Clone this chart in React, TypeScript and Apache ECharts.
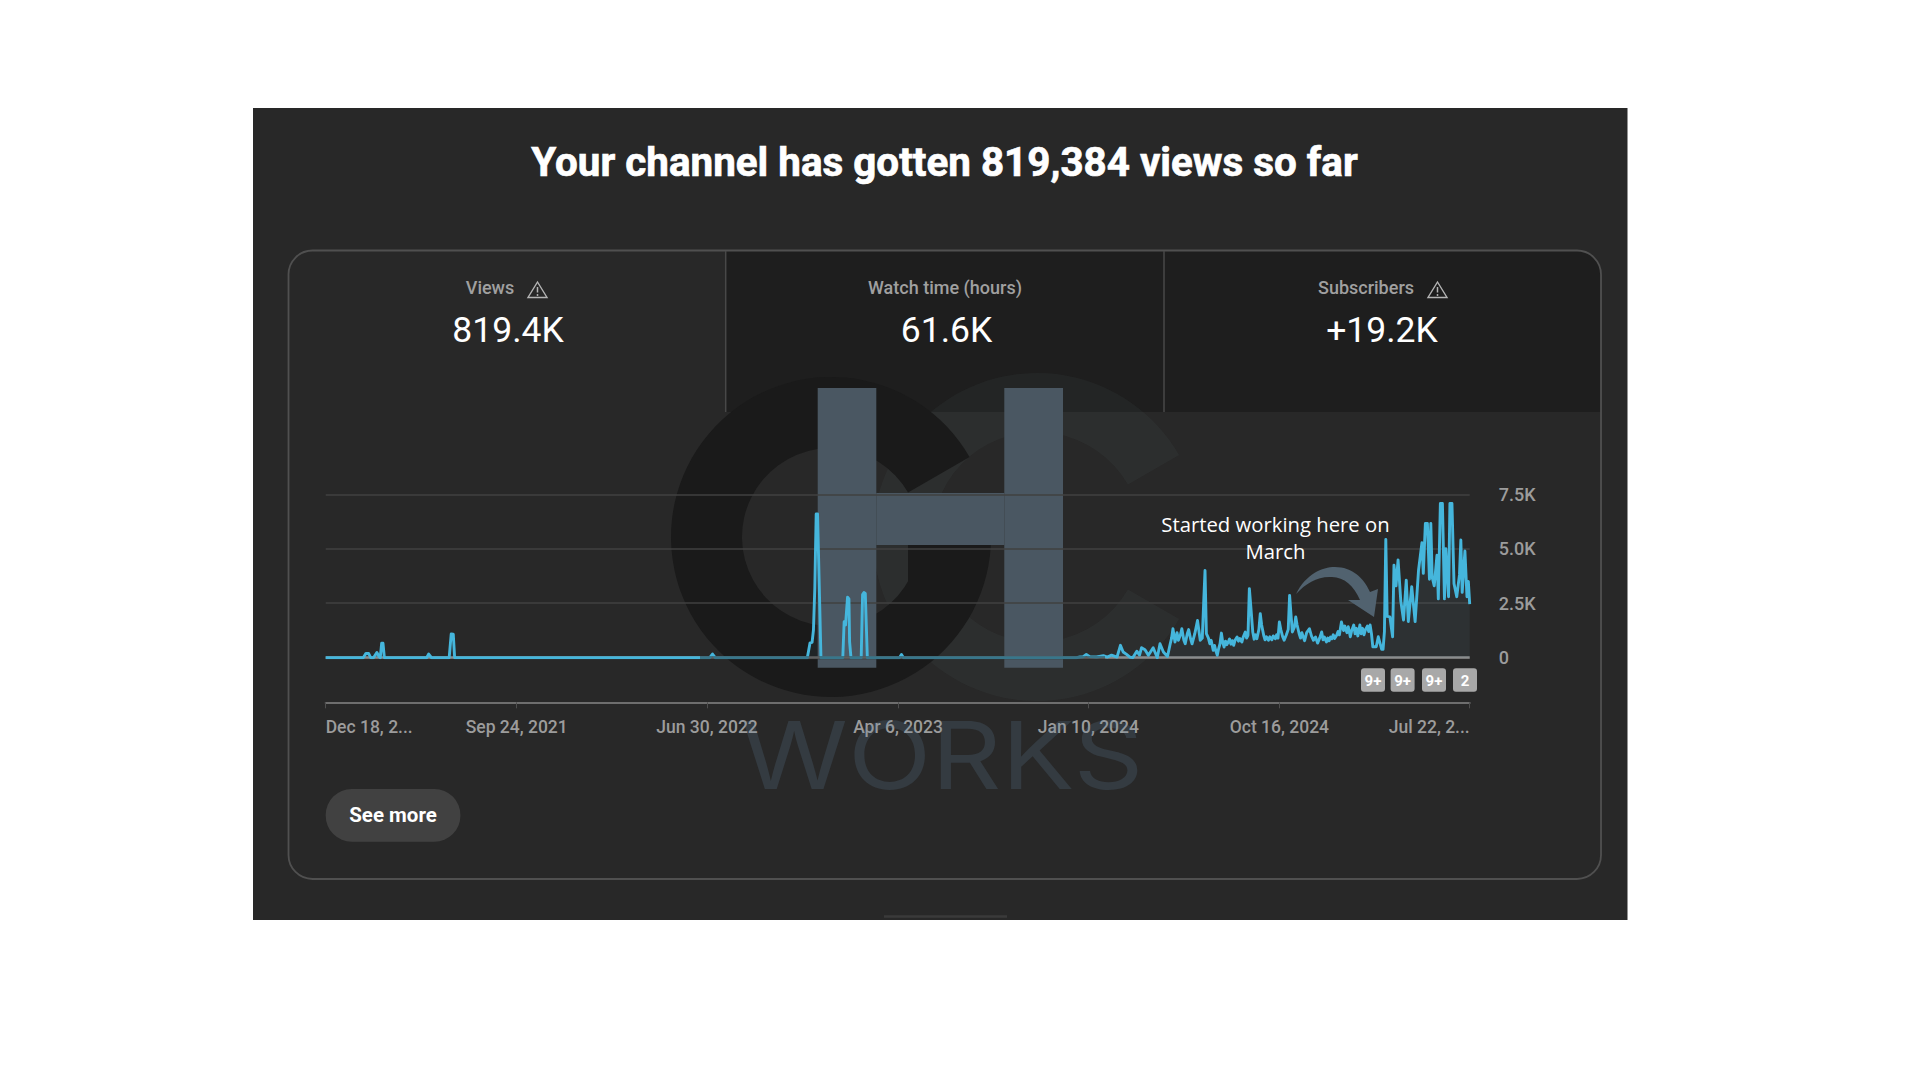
import React, { useEffect, useRef } from "react";
import * as echarts from "echarts";

const title = "Your channel has gotten 819,384 views so far";
const tabLabels = ["Views", "Watch time (hours)", "Subscribers"];
const tabValues = ["819.4K", "61.6K", "+19.2K"];
const badgeLabels = ["9+", "9+", "9+", "2"];
const xTickDays = [0, 280, 559, 839, 1118, 1398, 1677];
const xTickLabels = ["Dec 18, 2...", "Sep 24, 2021", "Jun 30, 2022", "Apr 6, 2023", "Jan 10, 2024", "Oct 16, 2024", "Jul 22, 2..."];
const yTickLabels: Record<number, string> = { 0: "0", 2500: "2.5K", 5000: "5.0K", 7500: "7.5K" };

const earlyDays = [0, 55, 59, 63, 66, 70, 75, 78, 80, 82, 84, 86, 148, 151, 155, 181, 184, 187, 189, 563, 567, 571, 706, 710, 713, 715, 717, 719, 721, 724, 726, 758, 760, 762, 765, 767, 768, 770, 785, 787, 789, 791, 794, 841, 844, 847, 1100];
const earlyViews = [0, 0, 200, 190, 0, 0, 240, 60, 0, 660, 660, 0, 0, 170, 0, 0, 1090, 1080, 0, 0, 170, 0, 0, 680, 700, 1270, 3200, 6600, 6600, 2650, 0, 0, 1650, 1500, 2780, 2700, 730, 0, 0, 2900, 2990, 2950, 0, 0, 150, 0, 0];

const growthDays = [1106, 1110, 1115, 1120, 1130, 1140, 1146, 1152, 1160, 1165, 1169, 1174, 1179, 1183, 1189, 1193, 1196, 1201, 1206, 1213, 1219, 1223, 1228, 1234, 1238, 1240, 1242, 1245, 1248, 1250, 1253, 1255, 1258, 1260, 1263, 1265, 1268, 1270, 1274, 1278, 1282, 1285, 1287, 1289, 1291];
const growthViews = [30, 40, 150, 50, 30, 90, 30, 120, 30, 570, 260, 150, 30, 0, 300, 120, 460, 370, 110, 460, 0, 640, 260, 60, 640, 900, 1330, 720, 1150, 800, 1050, 1330, 800, 640, 1100, 1290, 850, 640, 1100, 1710, 800, 900, 2500, 4000, 1100];

const bandPoints = [
  [1294, 900], [1296, 640], [1298, 800], [1301, 340], [1303, 560], [1305, 300], [1307, 110], [1309, 420], [1311, 640], [1313, 1130],
  [1315, 700], [1317, 490], [1319, 760], [1321, 600], [1323, 720], [1325, 860], [1327, 620], [1329, 780], [1331, 570], [1333, 800],
  [1336, 950], [1338, 760], [1340, 880], [1343, 720], [1345, 950], [1348, 1180], [1350, 900], [1352, 1030], [1354, 3170], [1356, 2400],
  [1359, 1180], [1361, 850], [1363, 1050], [1365, 870], [1368, 1300], [1370, 2020], [1372, 1500], [1375, 1030], [1377, 820], [1379, 960],
  [1382, 800], [1384, 960], [1387, 820], [1389, 1000], [1392, 870], [1394, 1050], [1396, 900], [1398, 1640], [1400, 1300], [1403, 950],
  [1405, 800], [1408, 1030], [1411, 1300], [1413, 2860], [1415, 2000], [1417, 1180], [1420, 1400], [1422, 1870], [1424, 1500], [1427, 1100],
  [1429, 900], [1431, 1150], [1433, 950], [1435, 780], [1438, 1150], [1442, 1330], [1445, 1000], [1448, 800], [1451, 950], [1454, 670],
  [1457, 900], [1460, 1180], [1462, 820], [1464, 950], [1467, 720], [1469, 900], [1471, 780], [1473, 950], [1475, 870], [1477, 1050],
  [1479, 880], [1482, 1030], [1484, 1200], [1486, 1050], [1489, 1640], [1492, 1250], [1494, 1450], [1497, 1150], [1499, 1420], [1502, 960],
  [1504, 1250], [1507, 1500], [1509, 1100], [1511, 1350], [1513, 1000], [1516, 1500], [1518, 1100], [1520, 1350], [1522, 1050], [1524, 1270],
  [1527, 1450], [1529, 1200], [1531, 1500],
];

const latestDays = [1533, 1535, 1540, 1543, 1548, 1550, 1552, 1554, 1556, 1560, 1564, 1566, 1569, 1572, 1576, 1580, 1584, 1587, 1592, 1597, 1602, 1607, 1609, 1612, 1615, 1618, 1620, 1622, 1625, 1629, 1631, 1634, 1637, 1640, 1642, 1646, 1648, 1651, 1654, 1658, 1662, 1664, 1666, 1670, 1673, 1675, 1677];
const latestViews = [1100, 500, 500, 960, 380, 380, 1200, 5430, 1900, 1870, 960, 4250, 3300, 4490, 2600, 1730, 3560, 1660, 3260, 1660, 4020, 5280, 3870, 6160, 6160, 3600, 6160, 3700, 3300, 4700, 2700, 7080, 7080, 2700, 5000, 2800, 7080, 7080, 3400, 2800, 3800, 5400, 3000, 4900, 2800, 3500, 2460];

const seriesData = [
  ...earlyDays.map((d, i) => [d, earlyViews[i]]),
  ...growthDays.map((d, i) => [d, growthViews[i]]),
  ...bandPoints,
  ...latestDays.map((d, i) => [d, latestViews[i]]),
];

const arrowPath =
  "M1296,594 C1306,574 1322,567 1335,567 C1352,567 1364,578 1370,592 L1378,589 L1374,617 L1348,600 L1360,600 C1354,586 1344,577 1332,577 C1318,576 1306,583 1296,594 Z";
const deg = Math.PI / 180;

function warningIcon(cx: number, cy: number) {
  const c = "#b4b4b4";
  return {
    type: "group",
    x: cx,
    y: cy,
    z: 50,
    children: [
      { type: "polygon", z: 50, shape: { points: [[0, -8], [9.5, 7.5], [-9.5, 7.5]] }, style: { fill: "none", stroke: c, lineWidth: 1.4 } },
      { type: "line", z: 50, shape: { x1: 0, y1: -3, x2: 0, y2: 2.5 }, style: { stroke: c, lineWidth: 1.5 } },
      { type: "circle", z: 50, shape: { cx: 0, cy: 5, r: 0.9 }, style: { fill: c } },
    ],
  };
}

function labelText(text: string, x: number, y: number, size: number, fill: string, weight: any = 400, z = 50, scaleX = 1, heavy = 0) {
  return {
    type: "text",
    x,
    y,
    z,
    scaleX,
    style: {
      text,
      fontFamily: "Roboto",
      fontSize: size,
      fontWeight: weight,
      fill,
      align: "center",
      verticalAlign: "middle",
      ...(heavy ? { stroke: fill, lineWidth: heavy } : {}),
    },
  };
}

export default function App() {
  const ref = useRef<HTMLDivElement>(null);
  useEffect(() => {
    if (!ref.current) return;
    echarts.graphic.registerShape("curveArrow", echarts.graphic.extendPath(arrowPath, {}));
    const chart = echarts.init(ref.current, undefined, { renderer: "svg" });
    const badgeX = [1361, 1390.6, 1422, 1453];
    const tabLabelX = [490, 945, 1366];
    const tabValueX = [508, 946.5, 1382];
    chart.setOption({
      animation: false,
      backgroundColor: "#ffffff",
      grid: { left: 325.7, right: 450.3, top: 494.3, height: 163.4, containLabel: false },
      xAxis: {
        type: "value",
        min: 0,
        max: 1677,
        offset: 44.6,
        splitLine: { show: false },
        axisLine: { show: true, onZero: false, lineStyle: { color: "#6e6e6e", width: 2 } },
        axisTick: { show: true, customValues: xTickDays, length: 6, lineStyle: { color: "#4e4e4e", width: 1 } },
        axisLabel: {
          customValues: xTickDays,
          formatter: (v: number) => xTickLabels[xTickDays.indexOf(v)] ?? "",
          color: "#9c9c9c",
          fontFamily: "Roboto",
          fontWeight: 500,
          fontSize: 17.5,
          margin: 16,
          hideOverlap: false,
          alignMinLabel: "left",
          alignMaxLabel: "right",
        },
      },
      yAxis: {
        type: "value",
        position: "right",
        min: 0,
        max: 7500,
        interval: 2500,
        axisLine: { show: false },
        axisTick: { show: false },
        splitLine: { show: true, lineStyle: { color: "#404040", width: 1.5 } },
        axisLabel: {
          formatter: (v: number) => yTickLabels[v] ?? "",
          color: "#9c9c9c",
          fontFamily: "Roboto",
          fontWeight: 500,
          fontSize: 18,
          margin: 29,
          align: "left",
        },
      },
      series: [
        {
          name: "Zero line",
          type: "line",
          z: 1,
          data: [],
          showSymbol: false,
          markLine: {
            z: 1,
            silent: true,
            symbol: "none",
            label: { show: false },
            lineStyle: { color: "#8c8c8c", width: 2.5, type: "solid" },
            data: [{ yAxis: 0 }],
          },
        },
        {
          name: "Views",
          type: "line",
          z: 3,
          data: seriesData,
          showSymbol: false,
          lineStyle: { color: "#45b6dc", width: 2.9, join: "round" },
          areaStyle: { color: "rgba(110,170,200,0.1)", origin: "start" },
        },
      ],
      graphic: {
        elements: [
          { type: "rect", z: -20, shape: { x: 253, y: 108, width: 1374.5, height: 812 }, style: { fill: "#282828" } },
          { type: "rect", z: -19, shape: { x: 726, y: 251, width: 438, height: 161 }, style: { fill: "#1e1e1e" } },
          { type: "rect", z: -19, shape: { x: 1164, y: 251, width: 437, height: 161, r: [0, 22, 0, 0] }, style: { fill: "#1e1e1e" } },
          { type: "rect", z: -18, shape: { x: 288.5, y: 250.5, width: 1312.5, height: 628.5, r: 24 }, style: { fill: "none", stroke: "#505050", lineWidth: 1.8 } },
          { type: "line", z: -18, shape: { x1: 725.7, y1: 251, x2: 725.7, y2: 412 }, style: { stroke: "#484848", lineWidth: 1.5 } },
          { type: "line", z: -18, shape: { x1: 1164, y1: 251, x2: 1164, y2: 412 }, style: { stroke: "#484848", lineWidth: 1.5 } },
          { type: "line", z: -18, shape: { x1: 884, y1: 916.5, x2: 1007, y2: 916.5 }, style: { stroke: "#3a3a3a", lineWidth: 2.5 } },

          labelText(title, 944.5, 162, 41, "#ffffff", 700, 50, 0.985, 0.7),
          ...tabLabels.map((t, i) => labelText(t, tabLabelX[i], 287.5, 18, "#a0a0a0", 500)),
          ...tabValues.map((t, i) => labelText(t, tabValueX[i], 330, 35.5, "#ffffff", 400)),
          warningIcon(537.5, 290),
          warningIcon(1437.5, 290),

          { type: "rect", z: 50, shape: { x: 325.7, y: 789, width: 134.7, height: 52.7, r: 26 }, style: { fill: "#414141" } },
          labelText("See more", 393, 815, 20.5, "#ffffff", 700),

          // watermark, under the chart's lines
          { type: "sector", z: -6, shape: { cx: 1037, cy: 537, r0: 105, r: 164, startAngle: 30 * deg, endAngle: 330 * deg, clockwise: true }, style: { fill: "rgba(102,127,127,0.08)" } },
          { type: "sector", z: -5, shape: { cx: 831, cy: 537, r0: 89, r: 160, startAngle: 0, endAngle: 330 * deg, clockwise: true }, style: { fill: "#1a1a1a" } },
          { type: "rect", z: -5, shape: { x: 908, y: 512, width: 74, height: 70 }, style: { fill: "#1a1a1a" } },
          { type: "rect", z: -4, shape: { x: 817.7, y: 388, width: 58.6, height: 279.7 }, style: { fill: "#4a5762" } },
          { type: "rect", z: -4, shape: { x: 1004.3, y: 388, width: 58.7, height: 279.7 }, style: { fill: "#4a5762" } },
          { type: "rect", z: -4, shape: { x: 876.3, y: 493, width: 128, height: 52 }, style: { fill: "#4a5762" } },
          {
            type: "text",
            x: 942,
            y: 755,
            z: 92,
            scaleX: 1.16,
            style: { text: "WORKS", fontFamily: "Inter", fontWeight: 400, fontSize: 94, fill: "rgba(100,135,165,0.2)", align: "center", verticalAlign: "middle" },
          },
          // the watermark dims the baseline in the reference
          { type: "line", z: 90, shape: { x1: 700, y1: 657.7, x2: 1105, y2: 657.7 }, style: { stroke: "rgba(40,40,40,0.45)", lineWidth: 3.4 } },

          // annotation
          { type: "curveArrow", z: 110, x: 0, y: 0, style: { fill: "#51626f" } },
          {
            type: "text",
            x: 1275.5,
            y: 537.5,
            z: 110,
            style: { text: "Started working here on\nMarch", fontFamily: "Open Sans", fontSize: 20.3, lineHeight: 27, fill: "#ffffff", align: "center", verticalAlign: "middle" },
          },

          // badges
          ...badgeLabels.flatMap((t, i) => [
            { type: "rect", z: 110, shape: { x: badgeX[i], y: 668.3, width: 24, height: 23.4, r: 3 }, style: { fill: "#a8a8a8" } },
            labelText(t, badgeX[i] + 12, 680.5, 15, "#ffffff", 700, 111),
          ]),
        ],
      },
    });
    return () => chart.dispose();
  }, []);
  return <div ref={ref} style={{ position: "absolute", left: 0, top: 0, width: 1920, height: 1080 }} />;
}
